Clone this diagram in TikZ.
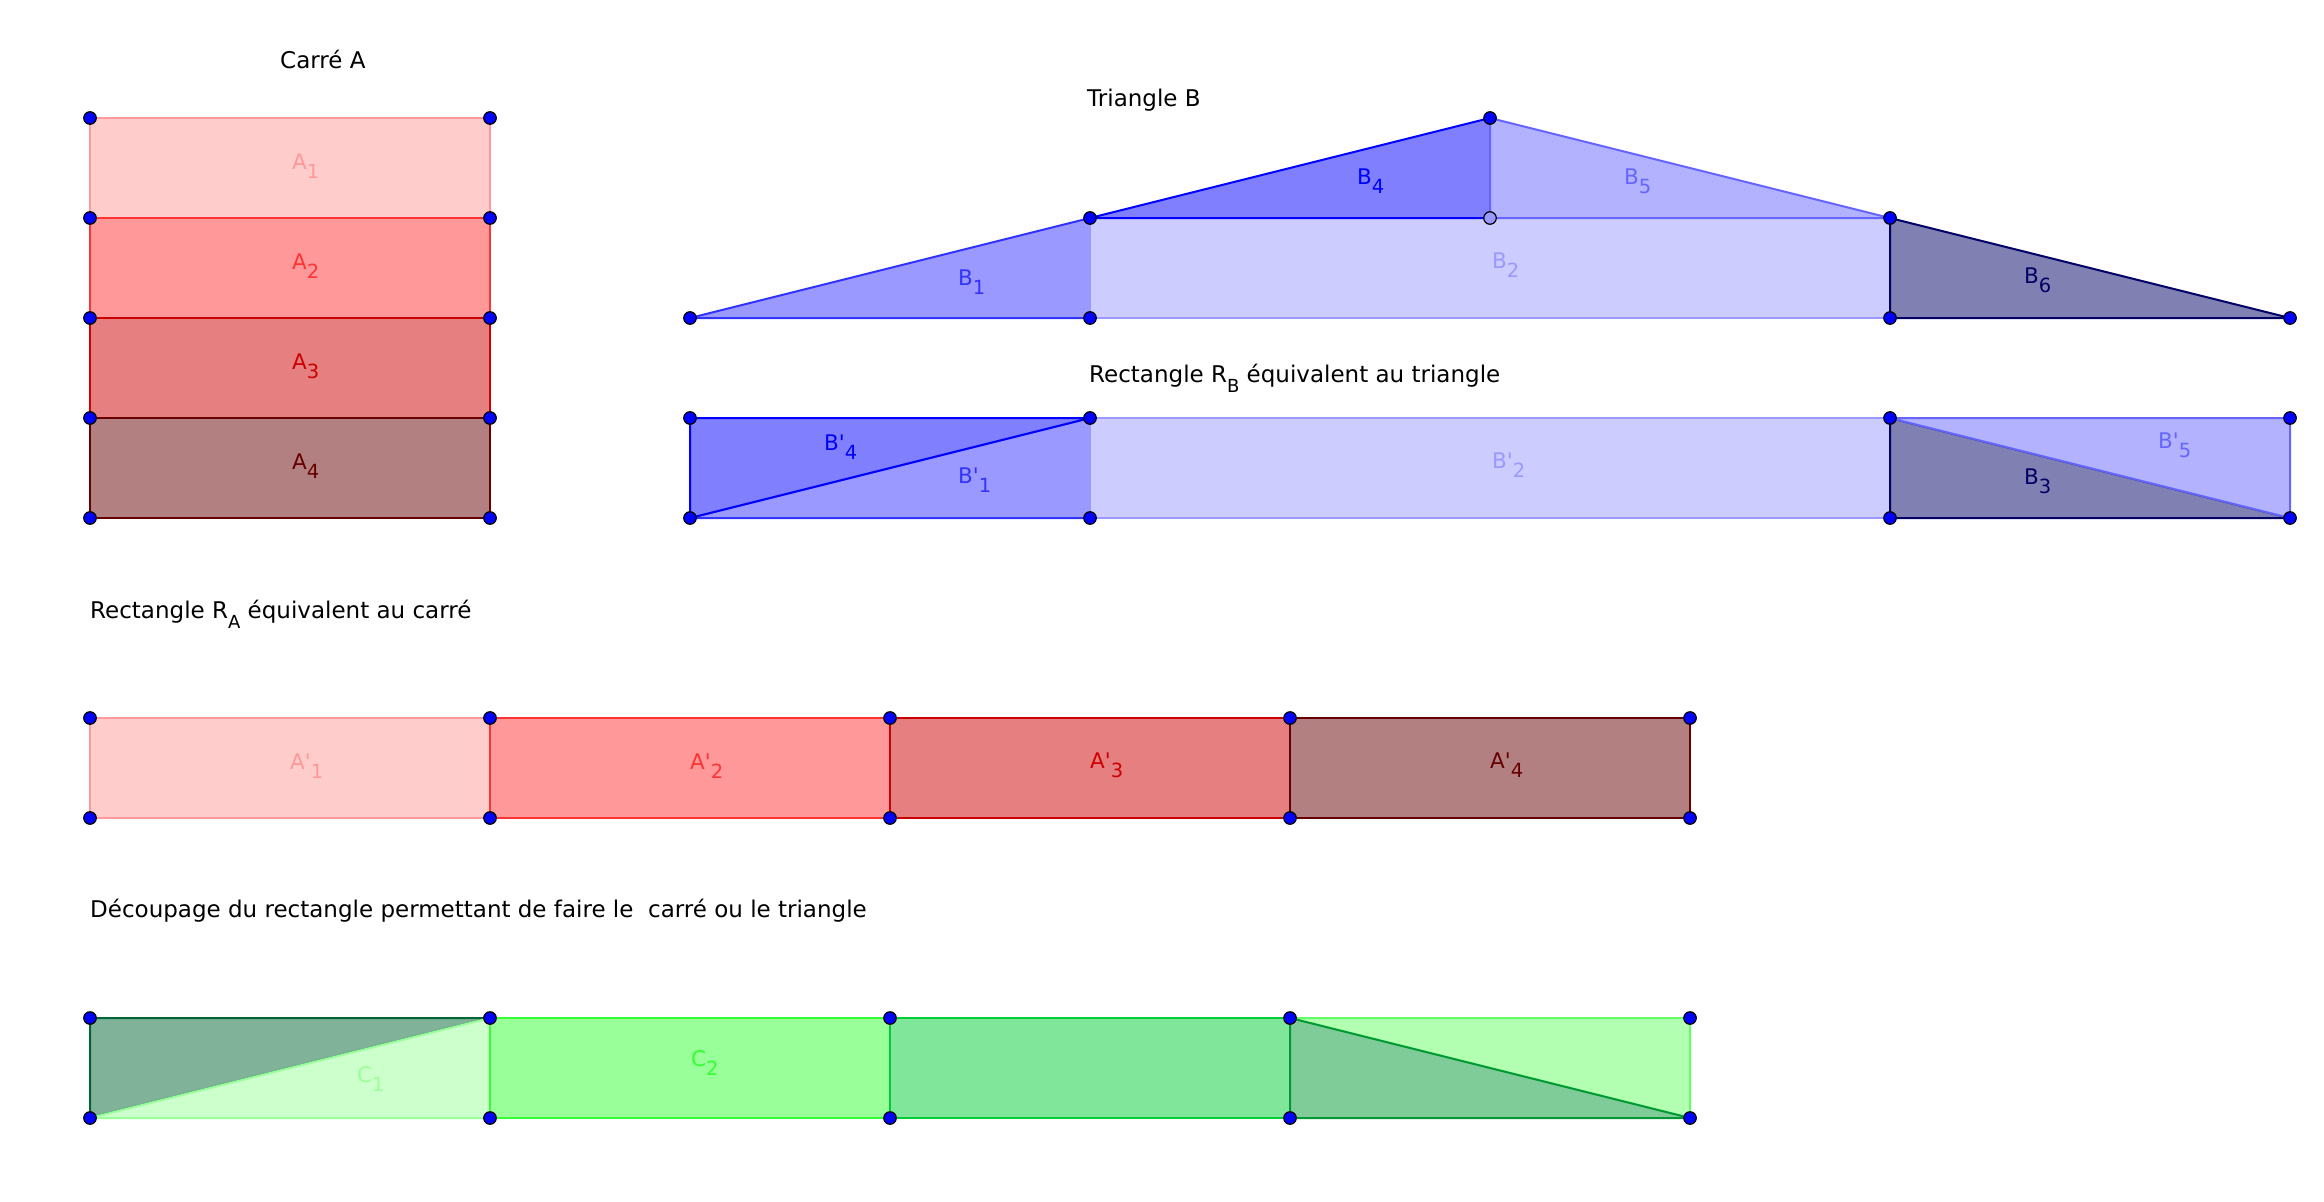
\documentclass[tikz,border=0pt]{standalone}
\usepackage{fontspec}
\setmainfont{DejaVu Sans}
\newcommand\sq{\XeTeXglyph\XeTeXcharglyph"27\relax}
\newcommand\lbl[2]{#1\raisebox{-9pt}{\fontsize{19.5}{20}\selectfont #2}}
\newcommand\tsub[1]{\raisebox{-10pt}{\fontsize{18}{18}\selectfont #1}}
\definecolor{cA1}{RGB}{255,153,153}
\definecolor{cA2}{RGB}{255,51,51}
\definecolor{cA3}{RGB}{204,0,0}
\definecolor{cA4}{RGB}{102,0,0}
\definecolor{cB1}{RGB}{51,51,255}
\definecolor{cB2}{RGB}{153,153,255}
\definecolor{cB4}{RGB}{0,0,255}
\definecolor{cB5}{RGB}{102,102,255}
\definecolor{cB6}{RGB}{0,0,102}
\definecolor{cC0}{RGB}{0,102,51}
\definecolor{cC1}{RGB}{153,255,153}
\definecolor{cC2}{RGB}{51,255,51}
\definecolor{cC3}{RGB}{0,204,51}
\definecolor{cC4}{RGB}{0,153,51}
\definecolor{cC5}{RGB}{102,255,102}
\begin{document}
\begin{tikzpicture}[x=1pt,y=-1pt,
  piece/.style={draw=#1, fill=#1!50!white, line width=2pt, line join=round},
  pt/.style={circle, draw=black, fill=blue, line width=1.2pt, inner sep=0pt, minimum size=12.5pt},
  ptopen/.style={pt, fill=cB2},
  ttl/.style={anchor=base west, inner sep=0pt, font=\fontsize{23}{28}\selectfont},
  lab/.style={anchor=base west, inner sep=0pt, text=#1, font=\fontsize{21.5}{25}\selectfont}]
\useasboundingbox (0,0) rectangle (2324,1202);
% ---------- coordinates
% square A
\coordinate (s1l) at (90,118);  \coordinate (s1r) at (490,118);
\coordinate (s2l) at (90,218);  \coordinate (s2r) at (490,218);
\coordinate (s3l) at (90,318);  \coordinate (s3r) at (490,318);
\coordinate (s4l) at (90,418);  \coordinate (s4r) at (490,418);
\coordinate (s5l) at (90,518);  \coordinate (s5r) at (490,518);
% triangle B
\coordinate (t1) at (690,318);  \coordinate (t2) at (1090,218);
\coordinate (t3) at (1090,318); \coordinate (t4) at (1490,118);
\coordinate (t5) at (1490,218); \coordinate (t6) at (1890,218);
\coordinate (t7) at (1890,318); \coordinate (t8) at (2290,318);
% rectangle RB
\coordinate (r1) at (690,418);  \coordinate (r2) at (1090,418);
\coordinate (r3) at (1890,418); \coordinate (r4) at (2290,418);
\coordinate (r5) at (690,518);  \coordinate (r6) at (1090,518);
\coordinate (r7) at (1890,518); \coordinate (r8) at (2290,518);
% rectangle RA and decoupage
\foreach \i/\x in {0/90,1/490,2/890,3/1290,4/1690}{
  \coordinate (q\i) at (\x,718);
  \coordinate (qb\i) at (\x,818);
  \coordinate (c\i) at (\x,1018);
  \coordinate (cb\i) at (\x,1118);
}
% ---------- titles
\node[ttl] (tA) at (280,68) {Carré A};
\node[ttl] (tB) at (1087,106) {Triangle B};
\node[ttl] (tRB) at (1089,382) {Rectangle R\tsub{B} équivalent au triangle};
\node[ttl] (tRA) at (90,618) {Rectangle R\tsub{A} équivalent au carré};
\node[ttl] (tC) at (90,917) {Découpage du rectangle permettant de faire le \ carré ou le triangle};
% ---------- square A
\draw[piece=cA1] (s1l) -- (s1r) -- (s2r) -- (s2l) -- cycle;
\draw[piece=cA2] (s2l) -- (s2r) -- (s3r) -- (s3l) -- cycle;
\draw[piece=cA3] (s3l) -- (s3r) -- (s4r) -- (s4l) -- cycle;
\draw[piece=cA4] (s4l) -- (s4r) -- (s5r) -- (s5l) -- cycle;
% ---------- triangle B
\draw[piece=cB1] (t1) -- (t2) -- (t3) -- cycle;
\draw[piece=cB2] (t2) -- (t6) -- (t7) -- (t3) -- cycle;
\draw[piece=cB4] (t2) -- (t4) -- (t5) -- cycle;
\draw[piece=cB5] (t5) -- (t4) -- (t6) -- cycle;
\draw[piece=cB6] (t6) -- (t8) -- (t7) -- cycle;
% ---------- rectangle RB
\draw[piece=cB1] (r5) -- (r2) -- (r6) -- cycle;
\draw[piece=cB4] (r1) -- (r2) -- (r5) -- cycle;
\draw[piece=cB2] (r2) -- (r3) -- (r7) -- (r6) -- cycle;
\draw[piece=cB6] (r3) -- (r8) -- (r7) -- cycle;
\draw[piece=cB5] (r3) -- (r4) -- (r8) -- cycle;
% ---------- rectangle RA
\draw[piece=cA1] (q0) -- (q1) -- (qb1) -- (qb0) -- cycle;
\draw[piece=cA2] (q1) -- (q2) -- (qb2) -- (qb1) -- cycle;
\draw[piece=cA3] (q2) -- (q3) -- (qb3) -- (qb2) -- cycle;
\draw[piece=cA4] (q3) -- (q4) -- (qb4) -- (qb3) -- cycle;
% ---------- decoupage
\draw[piece=cC0] (c0) -- (c1) -- (cb0) -- cycle;
\draw[piece=cC1] (cb0) -- (c1) -- (cb1) -- cycle;
\draw[piece=cC2] (c1) -- (c2) -- (cb2) -- (cb1) -- cycle;
\draw[piece=cC3] (c2) -- (c3) -- (cb3) -- (cb2) -- cycle;
\draw[piece=cC5] (c3) -- (c4) -- (cb4) -- cycle;
\draw[piece=cC4] (c3) -- (cb4) -- (cb3) -- cycle;
% ---------- labels
\node[lab=cA1] (lA1) at (292,169) {\lbl{A}{1}};
\node[lab=cA2] (lA2) at (292,269) {\lbl{A}{2}};
\node[lab=cA3] (lA3) at (292,369) {\lbl{A}{3}};
\node[lab=cA4] (lA4) at (292,469) {\lbl{A}{4}};
\node[lab=cB1] (lB1) at (958,285) {\lbl{B}{1}};
\node[lab=cB2] (lB2) at (1492,268) {\lbl{B}{2}};
\node[lab=cB4] (lB4) at (1357,184) {\lbl{B}{4}};
\node[lab=cB5] (lB5) at (1624,184) {\lbl{B}{5}};
\node[lab=cB6] (lB6) at (2024,283) {\lbl{B}{6}};
\node[lab=cB4] (lBp4) at (824,450) {\lbl{B\sq}{4}};
\node[lab=cB1] (lBp1) at (958,483) {\lbl{B\sq}{1}};
\node[lab=cB2] (lBp2) at (1492,468) {\lbl{B\sq}{2}};
\node[lab=cB5] (lBp5) at (2158,448) {\lbl{B\sq}{5}};
\node[lab=cB6] (lB3) at (2024,484) {\lbl{B}{3}};
\node[lab=cA1] (lAp1) at (290,769) {\lbl{A\sq}{1}};
\node[lab=cA2] (lAp2) at (690,769) {\lbl{A\sq}{2}};
\node[lab=cA3] (lAp3) at (1090,768) {\lbl{A\sq}{3}};
\node[lab=cA4] (lAp4) at (1490,768) {\lbl{A\sq}{4}};
\node[lab=cC1] (lC1) at (357,1082) {\lbl{C}{1}};
\node[lab=cC2] (lC2) at (691,1066) {\lbl{C}{2}};
% ---------- points
\foreach \p in {s1l,s1r,s2l,s2r,s3l,s3r,s4l,s4r,s5l,s5r,
                t1,t2,t3,t4,t6,t7,t8,
                r1,r2,r3,r4,r5,r6,r7,r8,
                q0,q1,q2,q3,q4,qb0,qb1,qb2,qb3,qb4,
                c0,c1,c2,c3,c4,cb0,cb1,cb2,cb3,cb4}{
  \node[pt] (P\p) at (\p) {};
}
\node[ptopen] (Pt5) at (t5) {};
\end{tikzpicture}
\end{document}
